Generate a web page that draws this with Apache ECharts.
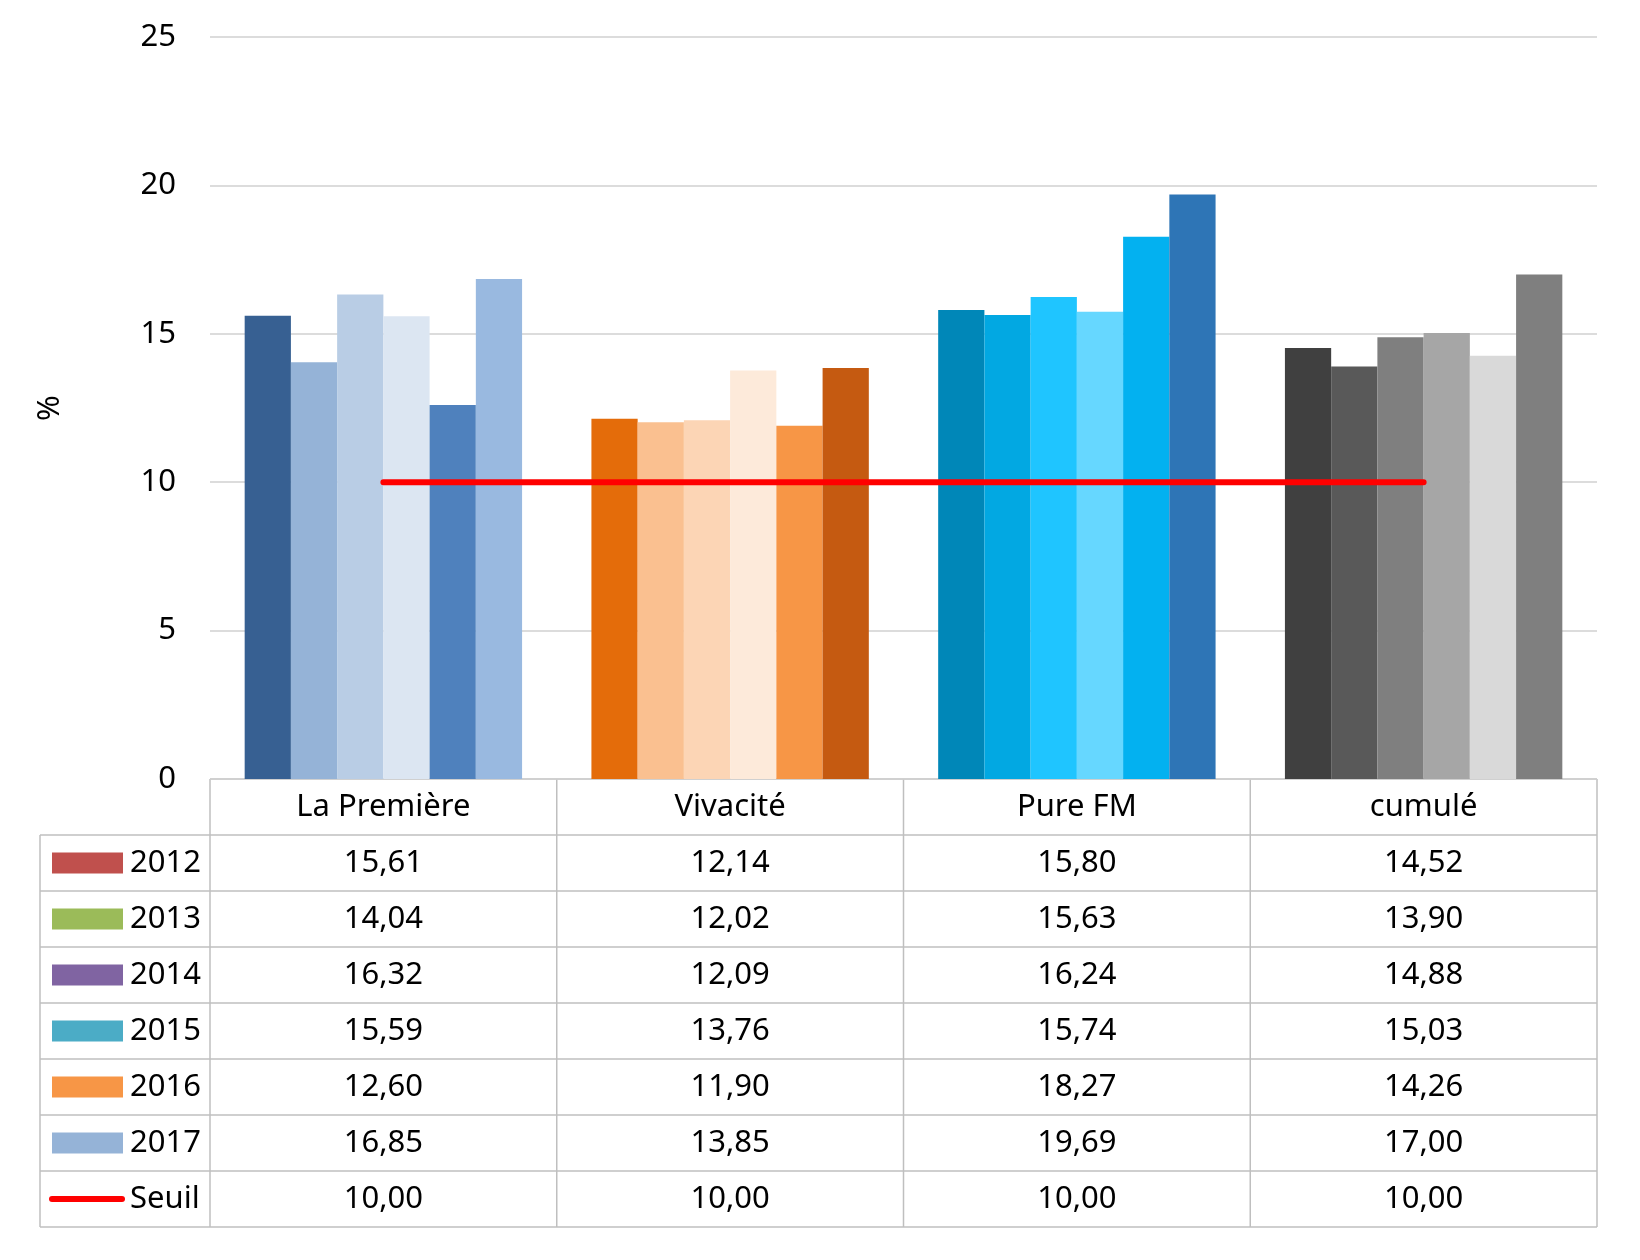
<!DOCTYPE html>
<html>
<head>
<meta charset="utf-8">
<script src="https://cdn.jsdelivr.net/npm/echarts@6/dist/echarts.min.js"></script>
<style>
html,body{margin:0;padding:0;background:#fff;}
#chart{width:1640px;height:1260px;}
</style>
</head>
<body>
<div id="chart"></div>
<script>
// ---- data ----
const categories = ['La Première', 'Vivacité', 'Pure FM', 'cumulé'];
const years = ['2012', '2013', '2014', '2015', '2016', '2017'];
const v2012 = [15.61, 12.14, 15.80, 14.52];
const v2013 = [14.04, 12.02, 15.63, 13.90];
const v2014 = [16.32, 12.09, 16.24, 14.88];
const v2015 = [15.59, 13.76, 15.74, 15.03];
const v2016 = [12.60, 11.90, 18.27, 14.26];
const v2017 = [16.85, 13.85, 19.69, 17.00];
const seuil = [10.00, 10.00, 10.00, 10.00];
const seuilName = 'Seuil';
const yAxisName = '%';

// ---- styles ----
const catColors = [
  ['#376092', '#95B3D7', '#B9CDE5', '#DCE6F2', '#4F81BD', '#99B9E0'],
  ['#E46C0A', '#FAC090', '#FCD5B5', '#FDEADA', '#F79646', '#C55A11'],
  ['#0087B8', '#02A8E2', '#1FC5FF', '#66D7FF', '#03B1F0', '#2E75B6'],
  ['#404040', '#595959', '#7F7F7F', '#A6A6A6', '#D9D9D9', '#7F7F7F']
];
const legendColors = ['#C0504D', '#9BBB59', '#8064A2', '#4BACC6', '#F79646', '#95B3D7'];
const seuilColor = '#FF0000';
const FONT = 'Noto Sans';
const FS = 31;

const yearValues = [v2012, v2013, v2014, v2015, v2016, v2017];

// layout
const W = 1640, H = 1260;
const GL = 210, GR = 1597, GT = 37, GB = 779;
const legendL = 40;
const rowH = (1227 - GB) / 8;
const colW = (GR - GL) / categories.length;
const lineCol = '#BFBFBF';

function fmt(v) { return v.toFixed(2).replace('.', ','); }

const chart = echarts.init(document.getElementById('chart'), null, { renderer: 'canvas', width: W, height: H });

const series = years.map((y, si) => ({
  name: y,
  type: 'bar',
  barGap: '0%',
  barCategoryGap: '20%',
  data: yearValues[si].map((v, ci) => ({ value: v, itemStyle: { color: catColors[ci][si] } })),
  z: 2
}));
series.push({
  name: seuilName,
  type: 'line',
  data: seuil,
  symbol: 'none',
  lineStyle: { color: seuilColor, width: 6, cap: 'round' },
  itemStyle: { color: seuilColor },
  z: 5
});

// table graphics
const g = [];
const nRows = years.length + 1;
const tableBottom = GB + (nRows + 1) * rowH;
const ls = { stroke: lineCol, lineWidth: 1.5 };
g.push({ type: 'line', shape: { x1: GL, y1: GB, x2: GR, y2: GB }, style: ls });
for (let r = 1; r <= nRows + 1; r++) {
  const y = GB + r * rowH;
  g.push({ type: 'line', shape: { x1: legendL, y1: y, x2: GR, y2: y }, style: ls });
}
g.push({ type: 'line', shape: { x1: legendL, y1: GB + rowH, x2: legendL, y2: tableBottom }, style: ls });
for (let c = 0; c <= categories.length; c++) {
  const x = GL + c * colW;
  g.push({ type: 'line', shape: { x1: x, y1: GB, x2: x, y2: tableBottom }, style: ls });
}
const rowNames = years.concat([seuilName]);
const rowValues = yearValues.concat([seuil]);
rowNames.forEach((name, r) => {
  const cy = GB + (r + 1) * rowH + rowH / 2;
  if (r < years.length) {
    g.push({ type: 'rect', shape: { x: 52, y: cy - 10.5, width: 71, height: 21 }, style: { fill: legendColors[r] } });
  } else {
    g.push({ type: 'line', shape: { x1: 52, y1: cy, x2: 122, y2: cy }, style: { stroke: seuilColor, lineWidth: 6, lineCap: 'round' } });
  }
  g.push({ type: 'text', x: 130, y: cy, style: { text: name, font: FS + 'px "' + FONT + '"', fill: '#000', textAlign: 'left', textVerticalAlign: 'middle' } });
  rowValues[r].forEach((v, c) => {
    g.push({ type: 'text', x: GL + c * colW + colW / 2, y: cy, style: { text: fmt(v), font: FS + 'px "' + FONT + '"', fill: '#000', textAlign: 'center', textVerticalAlign: 'middle' } });
  });
});

chart.setOption({
  animation: false,
  backgroundColor: '#fff',
  textStyle: { fontFamily: FONT },
  legend: { show: false },
  grid: { left: GL, right: W - GR, top: GT, bottom: H - GB, containLabel: false },
  xAxis: {
    type: 'category',
    data: categories,
    axisLine: { show: false },
    axisTick: { show: false },
    axisLabel: { color: '#000', fontSize: FS, fontFamily: FONT, margin: 0, lineHeight: rowH, interval: 0 }
  },
  yAxis: {
    type: 'value',
    min: 0, max: 25, interval: 5,
    name: yAxisName,
    nameLocation: 'middle',
    nameRotate: 90,
    nameGap: 144,
    nameTextStyle: { color: '#000', fontSize: 31, fontFamily: FONT },
    axisLine: { show: false },
    axisTick: { show: false },
    axisLabel: { color: '#000', fontSize: FS, fontFamily: FONT, margin: 34 },
    splitLine: { lineStyle: { color: '#D0D0D0', width: 1.5 } }
  },
  series: series,
  graphic: g
});
</script>
</body>
</html>
